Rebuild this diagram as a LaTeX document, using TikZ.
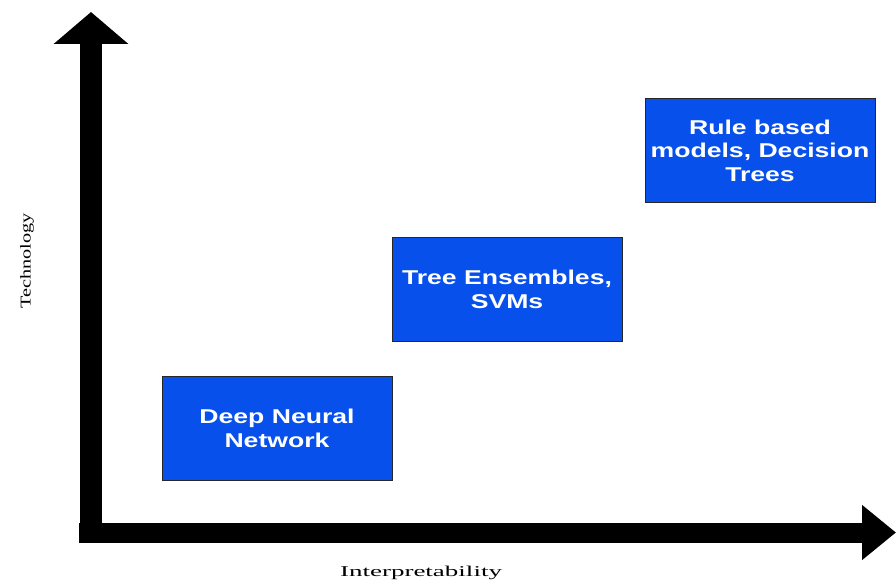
\documentclass[tikz,border=0pt]{standalone}
\usepackage{fontspec}
\newfontfamily\boxfont[FakeStretch=1.33]{Liberation Sans}
\newfontfamily\axfont[FakeStretch=1.35]{Liberation Serif}
\newfontfamily\axwfont[FakeStretch=1.8]{Liberation Serif}
\usepackage{tikz}
\usetikzlibrary{arrows.meta,positioning}
\definecolor{boxblue}{RGB}{8,80,236}
\tikzset{m/.style={draw=black!85,line width=1pt,fill=boxblue,text=white,align=center,font=\boxfont\bfseries\fontsize{20}{23.5}\selectfont,minimum width=230pt,minimum height=104pt,inner sep=2pt,outer sep=0pt},
 ax/.style={line width=22pt},lb/.style={font=\axfont\fontsize{15}{18}\selectfont}}
\begin{document}
\begin{tikzpicture}[x=1pt,y=-1pt]
\useasboundingbox(0,0)rectangle(896,586);
\coordinate(o)at(91,542);\coordinate(ytip)at(91,12);
\coordinate(xs)at(79,532.5);\coordinate(xtip)at(896,532.5);
\draw[ax,-{Triangle[width=73pt,length=32pt]}](o)--(ytip);
\draw[ax,line width=20pt,-{Triangle[width=53pt,length=34pt]}](xs)--(xtip);
\node[m](dnn)at(277,428.5){Deep Neural\\Network};
\node[m,above right=35pt and 0pt of dnn](ens){Tree Ensembles,\\SVMs};
\node[m,above right=35pt and 23pt of ens](rules){Rule based\\models, Decision\\Trees};
\node[lb,rotate=90](ylab)at(27,261){Technology};
\node[lb,font=\axwfont\fontsize{15}{18}\selectfont](xlab)at(421,573){Interpretability};
\end{tikzpicture}
\end{document}
